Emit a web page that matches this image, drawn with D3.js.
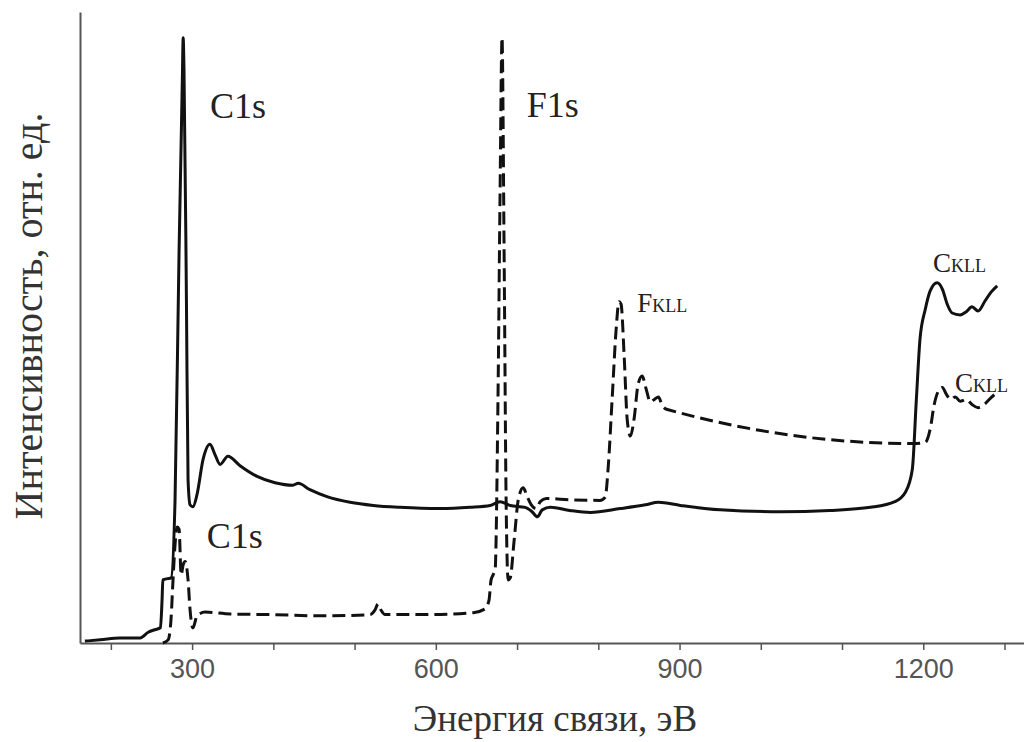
<!DOCTYPE html>
<html>
<head>
<meta charset="utf-8">
<script src="https://cdn.jsdelivr.net/npm/d3@7"></script>
<style>
  body { margin: 0; background: #fff; }
  svg { display: block; }
  .serif { font-family: 'Liberation Serif', 'DejaVu Serif', 'Times New Roman', serif; }
</style>
</head>
<body>
<div class="chart"></div>
<script>
(function() {
  'use strict';

  // binding energy (eV) / intensity (rel. units)
  const solidE = [168, 187, 211, 236, 246, 254, 261, 263, 264, 270, 274, 279, 284, 288, 289, 290, 293, 295, 297.5, 301, 306, 313.5, 322, 328, 334.5, 344, 359, 380, 402, 424, 430.5, 445, 466, 494.5, 523, 556, 605, 642, 667, 679, 691.5, 710, 718.5, 725, 731, 741, 765, 790, 827, 858, 874, 901, 950, 1024, 1085, 1135, 1165, 1178, 1186.5, 1191.5, 1196, 1202.5, 1208.5, 1217, 1223.5, 1229.5, 1235.5, 1245.5, 1253, 1260, 1267.5, 1276, 1283.5, 1291],
        solidI = [0.3, 0.5, 0.8, 0.8, 1.7, 2.1, 2.4, 6.8, 10, 10.2, 10.3, 22.7, 62.5, 89.5, 95.9, 91, 54.5, 25.9, 21.9, 21.6, 23.5, 29.1, 31.5, 29.9, 28.3, 29.6, 28.1, 26.4, 25.4, 25, 25.3, 24.3, 23.2, 22.3, 21.8, 21.5, 21.3, 21.5, 21.8, 22.4, 21.8, 21.5, 20.8, 20, 21.1, 21.5, 21, 20.7, 21.3, 21.9, 22.3, 21.8, 21.1, 20.8, 21, 21.5, 22.4, 23.9, 27.5, 38.6, 48.2, 52.9, 55.8, 57.1, 56.1, 53.7, 52.3, 52, 52.5, 53.3, 52.6, 54.2, 55.6, 56.6],

      dashE = [264, 270.5, 274, 276.5, 279, 281.5, 284, 286.5, 289, 291.5, 295, 297.5, 301, 306, 316, 347, 400, 458, 519, 525, 529, 533, 537.5, 593, 646, 660.5, 665.5, 668, 670.5, 673, 676.5, 679, 681.5, 684, 686.5, 689, 691.5, 696.5, 701.5, 707.5, 712.5, 717.5, 723.5, 728.5, 736, 765, 802, 808.5, 812, 817, 822, 825.5, 828, 832, 835.5, 839.5, 844, 849, 854, 859, 864, 869, 874, 878.5, 885, 1187.5, 1202.5, 1208.5, 1213.5, 1218.5, 1223.5, 1228.5, 1233.5, 1239.5, 1245.5, 1253, 1260, 1267.5, 1276, 1283.5, 1291],
      dashI = [0, 0.5, 3.7, 10, 15.6, 18.4, 18, 10.8, 12.4, 12.9, 10, 5.2, 2.4, 4.3, 4.9, 4.6, 4.5, 4.3, 4.5, 5.2, 6.2, 5.1, 4.5, 4.5, 4.8, 5.4, 6.8, 10, 10.8, 11.6, 38.6, 70.4, 95.9, 62.5, 22.7, 10, 10.3, 16.4, 22.7, 24.6, 23.2, 21.9, 21.3, 22.4, 22.9, 22.7, 22.6, 23.1, 27.5, 38.6, 49.8, 54.1, 53.7, 45, 35.5, 32.8, 35.5, 41, 42.3, 40.2, 38.2, 38.6, 39, 37.7, 37, 31.6, 31.8, 33.9, 37.8, 39.9, 40.5, 39.4, 38.6, 39, 38.3, 38.6, 37.8, 37.3, 37.9, 38.9, 39.7],

      tickValues  = [200, 300, 400, 500, 600, 700, 800, 900, 1000, 1100, 1200, 1300],
      tickLabels  = [300, 600, 900, 1200],

      peakNames = ['C1s', 'F1s', 'C1s', 'F', 'C', 'C'],
      peakSubs  = ['', '', '', 'KLL', 'KLL', 'KLL'],
      peakE     = [322, 712, 318, 848, 1212, 1239],
      peakI     = [83.2, 83.4, 15.1, 52.5, 58.8, 39.8];

  let width  = 1024,
      height = 742,
      margin = {top: 12, right: 0, bottom: 99, left: 80},

      svg = d3.select('.chart')
        .append('svg')
        .attr('width', width)
        .attr('height', height),

      x = d3.scaleLinear()
        .domain([162, 1324])
        .range([margin.left, width - margin.right]),

      y = d3.scaleLinear()
        .domain([0, 100])
        .range([height - margin.bottom, margin.top]),

      line = d3.line()
        .x(d => x(d[0]))
        .y(d => y(d[1]))
        .curve(d3.curveMonotoneX);

  // axes
  let xAxis = svg.append('g')
    .attr('transform', `translate(0,${y(0)})`)
    .call(d3.axisBottom(x)
      .tickValues(tickValues)
      .tickSize(7)
      .tickSizeOuter(0)
      .tickPadding(9)
      .tickFormat(d => tickLabels.includes(d) ? d : ''));

  xAxis.select('.domain').attr('stroke', '#555').attr('stroke-width', 2);
  xAxis.selectAll('.tick line').attr('stroke', '#555').attr('stroke-width', 1.5);
  xAxis.selectAll('.tick text')
    .attr('fill', '#555')
    .style('font-family', "'Liberation Sans', Arial, sans-serif")
    .style('font-size', '27px');

  let yAxis = svg.append('g')
    .attr('transform', `translate(${x(162)},0)`)
    .call(d3.axisLeft(y).tickValues([]).tickSizeOuter(0));

  yAxis.select('.domain').attr('stroke', '#555').attr('stroke-width', 2);

  // spectra
  svg.append('path')
    .datum(dashE.map((e, i) => [e, dashI[i]]))
    .attr('fill', 'none')
    .attr('stroke', '#111')
    .attr('stroke-width', 3)
    .attr('stroke-dasharray', '13,6')
    .attr('d', line);

  svg.append('path')
    .datum(solidE.map((e, i) => [e, solidI[i]]))
    .attr('fill', 'none')
    .attr('stroke', '#111')
    .attr('stroke-width', 3)
    .attr('d', line);

  // peak labels
  peakNames.forEach((name, i) => {
    let small = peakSubs[i] !== '',
        t = svg.append('text')
          .attr('class', 'serif')
          .attr('x', x(peakE[i]))
          .attr('y', y(peakI[i]))
          .attr('fill', '#222')
          .style('font-size', small ? '27px' : '36px')
          .text(name);
    if (small) {
      t.append('tspan')
        .style('font-size', '18px')
        .text(peakSubs[i]);
    }
  });

  // axis titles
  svg.append('text')
    .attr('class', 'serif')
    .attr('x', 555)
    .attr('y', 731)
    .attr('text-anchor', 'middle')
    .attr('fill', '#333')
    .style('font-size', '37px')
    .text('Энергия связи, эВ');

  svg.append('text')
    .attr('class', 'serif')
    .attr('transform', 'translate(42,316) rotate(-90)')
    .attr('text-anchor', 'middle')
    .attr('fill', '#333')
    .style('font-size', '40px')
    .text('Интенсивность, отн. ед.');

})();
</script>
</body>
</html>
